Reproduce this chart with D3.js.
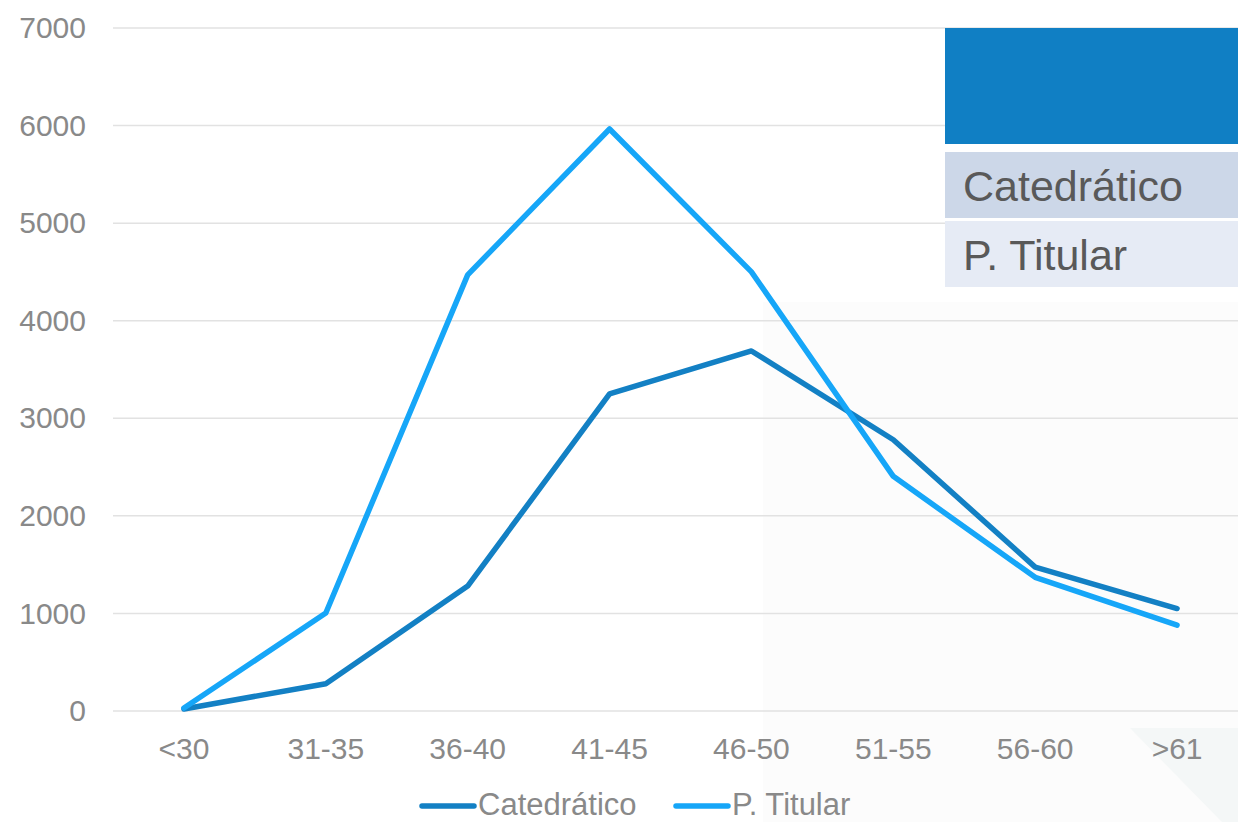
<!DOCTYPE html>
<html><head><meta charset="utf-8">
<script src="https://cdn.jsdelivr.net/npm/d3@7"></script>
<style>html,body{margin:0;padding:0;background:#fff;}svg{display:block;font-family:"Liberation Sans",Arial,sans-serif;}</style>
</head><body><svg id="c" width="1238" height="822"></svg>
<script>
const categories = ["<30","31-35","36-40","41-45","46-50","51-55","56-60",">61"];
const catedratico = [20, 280, 1280, 3250, 3690, 2780, 1475, 1050];
const titular = [30, 1005, 4470, 5965, 4500, 2405, 1370, 880];
const seriesNames = ["Catedrático","P. Titular"];
const yTicks = [0,1000,2000,3000,4000,5000,6000,7000];
const colors = ["#1380C4","#16A6F8"];

const svg = d3.select("#c");
// background decorations
svg.append("rect").attr("x",763).attr("y",302).attr("width",475).attr("height",520).attr("fill","#fcfcfc");
svg.append("path").attr("d","M1130,728 L1238,728 L1238,822 L1222,822 Z").attr("fill","#f4f7f7");

const x = d3.scaleBand().domain(categories).range([113,1248]);
const y = d3.scaleLinear().domain([0,7000]).range([711,28]);

// grid
svg.append("g").selectAll("line").data(yTicks).join("line")
  .attr("x1",113).attr("x2",1238).attr("y1",d=>y(d)).attr("y2",d=>y(d))
  .attr("stroke","#e2e2e2").attr("stroke-width",1.5);

// y axis labels
const yAxis = d3.axisLeft(y).tickValues(yTicks).tickFormat(d3.format("d")).tickSize(0).tickPadding(0);
const gy = svg.append("g").attr("transform","translate(86,0)").call(yAxis);
gy.select(".domain").remove();
gy.selectAll("text").attr("font-size",30).attr("fill","#898989").attr("font-family","Liberation Sans, Arial, sans-serif");

// x axis labels
const xAxis = d3.axisBottom(x).tickSize(0).tickPadding(0);
const gx = svg.append("g").attr("transform","translate(0,738)").call(xAxis);
gx.select(".domain").remove();
gx.selectAll("text").attr("font-size",30).attr("fill","#898989").attr("font-family","Liberation Sans, Arial, sans-serif");

const line = d3.line().x((d,i)=>x(categories[i])+x.bandwidth()/2).y(d=>y(d));
[catedratico, titular].forEach((s,i)=>{
  svg.append("path").attr("d",line(s)).attr("fill","none").attr("stroke",colors[i])
    .attr("stroke-width",5.5).attr("stroke-linejoin","round").attr("stroke-linecap","round");
});

// data table box top-right
svg.append("rect").attr("x",945).attr("y",28).attr("width",293).attr("height",116).attr("fill","#107FC4");
const rowFill = ["#CCD7E8","#E6EBF5"];
const rowY = [152,221];
seriesNames.forEach((n,i)=>{
  svg.append("rect").attr("x",945).attr("y",rowY[i]).attr("width",293).attr("height",66).attr("fill",rowFill[i]);
  svg.append("text").attr("x",963).attr("y",rowY[i]+49).text(n).attr("font-size",43).attr("fill","#595959");
});

// legend
const legX = [422,676];
seriesNames.forEach((n,i)=>{
  svg.append("line").attr("x1",legX[i]).attr("x2",legX[i]+52).attr("y1",806).attr("y2",806)
    .attr("stroke",colors[i]).attr("stroke-width",5.5).attr("stroke-linecap","round");
  svg.append("text").attr("x",legX[i]+56).attr("y",815).text(n).attr("font-size",31).attr("fill","#898989");
});
</script></body></html>
